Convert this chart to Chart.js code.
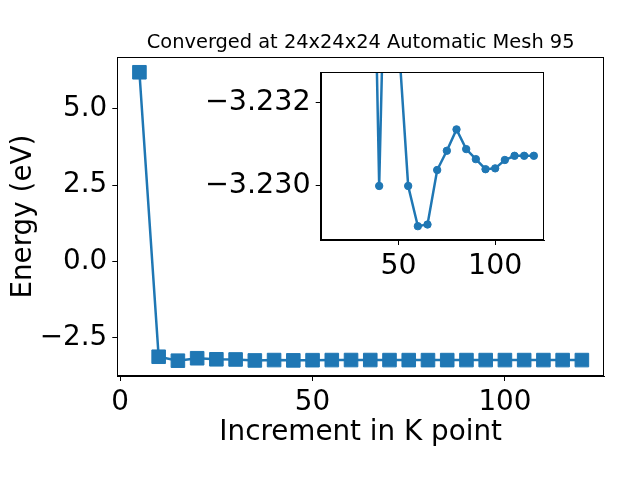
<!DOCTYPE html>
<html>
<head>
<meta charset="utf-8">
<script src="https://cdn.jsdelivr.net/npm/chart.js@4.4.1/dist/chart.umd.min.js"></script>
<style>
  html, body { margin: 0; padding: 0; background: #ffffff; }
  #wrap { position: relative; width: 640px; height: 480px; }
  #main { position: absolute; left: 0; top: 0; }
  #inset { position: absolute; left: 190px; top: 62px; }
</style>
</head>
<body>
<div id="wrap">
  <canvas id="main" width="640" height="480"></canvas>
  <canvas id="inset" width="370" height="220"></canvas>
</div>
<script>
// ---- data ----
const kPoints = [5, 10, 15, 20, 25, 30, 35, 40, 45, 50, 55, 60, 65, 70, 75, 80, 85, 90, 95, 100, 105, 110, 115, 120];
const energies = [6.196, -3.121, -3.250, -3.170, -3.205, -3.210, -3.2416, -3.2300, -3.2397, -3.2335, -3.2300, -3.22904,
                  -3.22908, -3.23038, -3.23084, -3.23135, -3.23088, -3.23064, -3.23040, -3.23042, -3.23062, -3.23072, -3.23072, -3.23072];
const insetFirstK = 35;
const mainXTicks = [0, 50, 100];
const mainYTicks = [-2.5, 0.0, 2.5, 5.0];
const insetXTicks = [50, 100];
const insetYTicks = [-3.232, -3.230];
const titleText = 'Converged at 24x24x24 Automatic Mesh 95';
const xLabel = 'Increment in K point';
const yLabel = 'Energy (eV)';

// ---- styling ----
const BLUE = '#1f77b4';
const FONT = 'DejaVu Sans';
const minus = s => s.replace('-', '\u2212');

const mainPoints = kPoints.map((k, i) => ({x: k, y: energies[i]}));
const insetPoints = mainPoints.filter(p => p.x >= insetFirstK);

const framePlugin = {
  id: 'frame',
  beforeDraw(chart) {
    const a = chart.chartArea, ctx = chart.ctx;
    ctx.save();
    ctx.fillStyle = '#ffffff';
    ctx.fillRect(a.left, a.top, a.right - a.left, a.bottom - a.top);
    ctx.restore();
  },
  afterDraw(chart) {
    const a = chart.chartArea, ctx = chart.ctx;
    ctx.save();
    ctx.strokeStyle = '#000000';
    ctx.lineWidth = 1;
    const l = Math.round(a.left) + 0.5, t = Math.round(a.top) + 0.5;
    const r = Math.round(a.right) - 0.5, b = Math.round(a.bottom) - 0.5;
    ctx.strokeRect(l, t, r - l, b - t);
    ctx.restore();
  }
};

function fixedTicks(list) {
  return scale => { scale.ticks = list.map(v => ({value: v})); };
}
function noPad(s) { s.paddingTop = 0; s.paddingBottom = 0; s.paddingLeft = 0; s.paddingRight = 0; }

function axisCommon(size) {
  return {
    grid: {drawOnChartArea: false, drawTicks: true, tickLength: 5, tickColor: '#000', tickWidth: 1},
    border: {display: true, color: '#000', width: 1},
    ticks: {font: {family: FONT, size: size}, color: '#000', padding: 5, maxRotation: 0, autoSkip: false}
  };
}

const mainX = axisCommon(27.8);
Object.assign(mainX, {
  type: 'linear', min: -0.75, max: 125.75,
  afterBuildTicks: fixedTicks(mainXTicks),
  afterFit: s => { s.height = 104; noPad(s); },
  title: {display: true, text: xLabel, color: '#000', font: {family: FONT, size: 27.8}, padding: {top: 0, bottom: 31}}
});
mainX.ticks.callback = v => String(v);

const mainY = axisCommon(27.8);
Object.assign(mainY, {
  type: 'linear', min: -3.752, max: 6.687,
  afterBuildTicks: fixedTicks(mainYTicks),
  afterFit: s => { s.width = 117.3; noPad(s); },
  title: {display: true, text: yLabel, color: '#000', font: {family: FONT, size: 27.8}, padding: {top: 7, bottom: 0}}
});
mainY.ticks.callback = v => minus(Number(v).toFixed(1));

new Chart(document.getElementById('main'), {
  type: 'line',
  data: {datasets: [{
    data: mainPoints,
    borderColor: BLUE, backgroundColor: BLUE,
    borderWidth: 2.5,
    pointStyle: 'rect', pointRadius: 9.6, pointBorderWidth: 1,
    pointBorderColor: BLUE, pointBackgroundColor: BLUE,
    tension: 0, clip: 0
  }]},
  options: {
    responsive: false, animation: false, devicePixelRatio: 1,
    layout: {padding: {left: 0, right: 36, top: 0, bottom: 0}},
    plugins: {
      legend: {display: false}, tooltip: {enabled: false},
      title: {display: true, text: titleText, color: '#000', fullSize: false,
              font: {family: FONT, size: 19.4, weight: 'normal'}, padding: {top: 31, bottom: 3}}
    },
    scales: {x: mainX, y: mainY}
  },
  plugins: [framePlugin]
});

const insX = axisCommon(28.4);
Object.assign(insX, {
  type: 'linear', min: 9.75, max: 125.25,
  afterBuildTicks: fixedTicks(insetXTicks),
  afterFit: s => { s.height = 42; noPad(s); }
});
insX.ticks.callback = v => String(v);

const insY = axisCommon(28.6);
Object.assign(insY, {
  type: 'linear', min: -3.23272, max: -3.22871, reverse: true,
  afterBuildTicks: fixedTicks(insetYTicks),
  afterFit: s => { s.width = 130.7; noPad(s); }
});
insY.ticks.callback = v => minus(Number(v).toFixed(3));

new Chart(document.getElementById('inset'), {
  type: 'line',
  data: {datasets: [{
    data: insetPoints,
    borderColor: BLUE, backgroundColor: BLUE,
    borderWidth: 2.5,
    pointStyle: 'circle', pointRadius: 3.7, pointBorderWidth: 1,
    pointBorderColor: BLUE, pointBackgroundColor: BLUE,
    tension: 0, clip: 0
  }]},
  options: {
    responsive: false, animation: false, devicePixelRatio: 1,
    layout: {padding: {left: 0, right: 16, top: 10, bottom: 0}},
    plugins: {legend: {display: false}, tooltip: {enabled: false}, title: {display: false}},
    scales: {x: insX, y: insY}
  },
  plugins: [framePlugin]
});
</script>
</body>
</html>
